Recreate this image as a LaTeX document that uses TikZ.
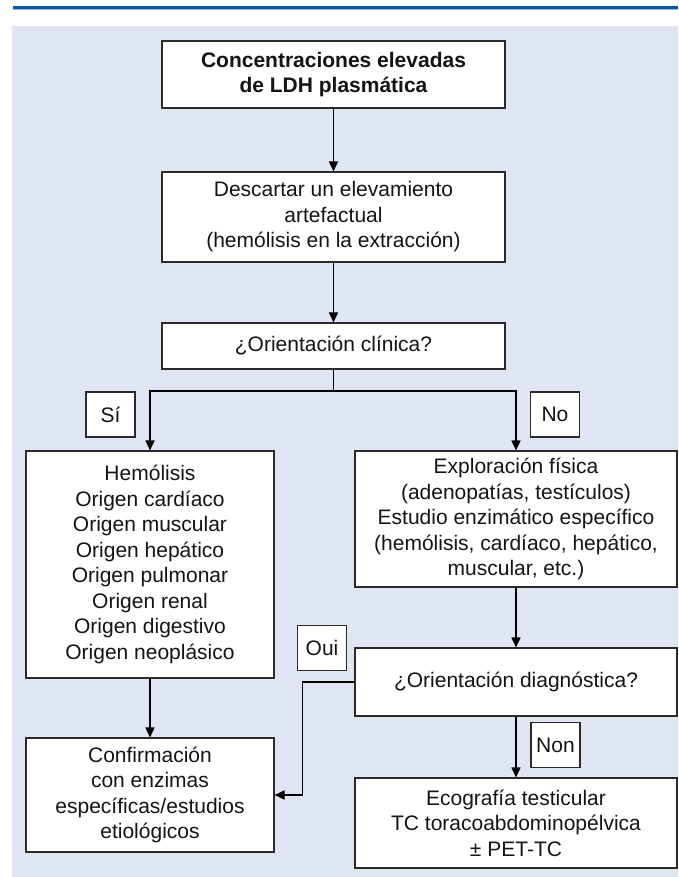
\documentclass[tikz,border=0pt]{standalone}
\usepackage{fontspec}
\setmainfont{Liberation Sans}
\usetikzlibrary{arrows.meta}
\definecolor{panel}{HTML}{DFE5F2}
\definecolor{topblue}{HTML}{0E5AA7}
\definecolor{lightblue}{HTML}{8DB3DE}
\definecolor{txt}{HTML}{141414}
\definecolor{edge}{HTML}{2A2A2A}
\tikzset{
  box/.style={draw=edge, line width=1.1pt, fill=white, align=center, inner sep=0pt,
    text=txt, font=\fontsize{21}{25.5}\selectfont},
  lbl/.style={box, minimum width=49pt, minimum height=45pt},
  conn/.style={line width=1.6pt, draw=black},
  arr/.style={conn, -{Triangle[length=10pt,width=9pt]}}
}
\begin{document}
\begin{tikzpicture}[x=1pt,y=-1pt]
\useasboundingbox (0,0) rectangle (678,877);
\fill[panel] (12,26) rectangle (678,877);
\fill[topblue] (13,6) rectangle (678,8.6);
\fill[lightblue] (13,8.6) rectangle (678,9.8);

\node[box, minimum width=343pt, minimum height=67pt, font=\fontsize{21}{25.5}\selectfont\bfseries] (b1) at (333.5,74.5)
  {Concentraciones elevadas\\de LDH plasmática};
\node[box, minimum width=343pt, minimum height=90pt] (b2) at (333.5,217)
  {Descartar un elevamiento\\artefactual\\(hemólisis en la extracción)};
\node[box, minimum width=343pt, minimum height=46pt] (b3) at (333.5,346)
  {¿Orientación clínica?};
\node[box, minimum width=248pt, minimum height=227pt] (hem) at (150,564.5)
  {Hemólisis\\Origen cardíaco\\Origen muscular\\Origen hepático\\Origen pulmonar\\Origen renal\\Origen digestivo\\Origen neoplásico};
\node[box, minimum width=322pt, minimum height=136pt] (expl) at (516,519)
  {Exploración física\\(adenopatías, testículos)\\Estudio enzimático específico\\(hemólisis, cardíaco, hepático,\\muscular, etc.)};
\node[box, minimum width=322pt, minimum height=68pt] (diag) at (516,682)
  {¿Orientación diagnóstica?};
\node[box, minimum width=248pt, minimum height=114pt] (conf) at (150,795)
  {Confirmación\\con enzimas\\específicas/estudios\\etiológicos};
\node[box, minimum width=322pt, minimum height=90pt] (eco) at (516,823)
  {Ecografía testicular\\TC toracoabdominopélvica\\± PET-TC};

\node[lbl] (si) at (110.5,414.5) {Sí};
\node[lbl] (no) at (555,414.5) {No};
\node[lbl] (oui) at (322,648) {Oui};
\node[lbl] (non) at (555.5,745) {Non};

\coordinate (split) at (333.5,391);
\draw[arr] (b1.south) -- (b2.north);
\draw[arr] (b2.south) -- (b3.north);
\draw[conn] (b3.south) -- (split);
\draw[arr] (split) -| (hem.north);
\draw[arr] (split) -| (expl.north);
\draw[arr] (expl.south) -- (diag.north);
\draw[arr] (hem.south) -- (conf.north);
\draw[arr] (diag.south) -- (eco.north);
\draw[arr] (diag.west) -- ++(-52,0) |- (conf.east);
\end{tikzpicture}
\end{document}
